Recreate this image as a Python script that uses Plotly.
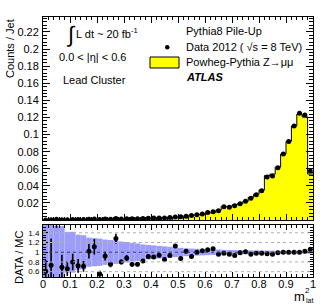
import plotly.graph_objects as go

# ---------------- data ----------------
bin_low = [i / 50 for i in range(50)]
bin_width = 0.02

mc_counts = [0.0004, 0.0005, 0.0005, 0.0006, 0.0007, 0.0007, 0.0008, 0.0009, 0.0009, 0.0010,
             0.0011, 0.0012, 0.0013, 0.0014, 0.0015, 0.0016, 0.0018, 0.0019, 0.0021, 0.0023,
             0.0025, 0.0027, 0.0029, 0.0032, 0.0032, 0.0044, 0.0045, 0.0057, 0.0062, 0.0070,
             0.0083, 0.0090, 0.0115, 0.0160, 0.0157, 0.0178, 0.0193, 0.0218, 0.0265, 0.0303,
             0.0351, 0.0520, 0.0537, 0.0620, 0.0772, 0.0920, 0.1100, 0.1240, 0.1205, 0.0538]

data_counts = [0.0002, 0.0004, 0.0009, 0.0004, 0.0005, 0.0006, 0.0006, 0.0006, 0.0009, 0.0011,
               0.0006, 0.0011, 0.0010, 0.0018, 0.0012, 0.0014, 0.0014, 0.0014, 0.0017, 0.0021,
               0.0023, 0.0025, 0.0025, 0.0030, 0.0036, 0.0038, 0.0046, 0.0052, 0.0062, 0.0072,
               0.0087, 0.0096, 0.0110, 0.0157, 0.0151, 0.0166, 0.0191, 0.0220, 0.0255, 0.0297,
               0.0344, 0.0504, 0.0516, 0.0613, 0.0772, 0.0920, 0.1100, 0.1250, 0.1230, 0.0574]

ratio = [0.61, 0.73, 1.90, 0.69, 0.66, 0.80, 0.72, 0.71, 1.02, 1.11,
         0.55, 0.92, 0.75, 1.28, 0.80, 0.88, 0.75, 0.75, 0.82, 0.91,
         0.90, 0.94, 0.85, 0.93, 1.13, 0.87, 1.02, 0.91, 1.00, 1.03,
         1.05, 1.07, 0.96, 0.98, 0.96, 0.93, 0.99, 1.01, 0.96, 0.98,
         0.98, 0.97, 0.96, 0.99, 1.00, 1.00, 1.00, 1.00, 1.02, 1.06]

ratio_err = [0.23, 0.55, 0.40, 0.26, 0.15, 0.17, 0.14, 0.11, 0.15, 0.16,
             0.07, 0.09, 0.06, 0.10, 0.05, 0.06, 0.05, 0.045, 0.04, 0.04,
             0.035, 0.035, 0.03, 0.03, 0.03, 0.025, 0.022, 0.02, 0.02, 0.018,
             0.017, 0.016, 0.015, 0.014, 0.013, 0.013, 0.012, 0.012, 0.011, 0.011,
             0.010, 0.010, 0.010, 0.010, 0.010, 0.010, 0.010, 0.010, 0.010, 0.012]

mc_band_halfwidth = [1.10, 1.10, 0.54, 0.54, 0.42, 0.42, 0.36, 0.35, 0.30, 0.29,
                     0.28, 0.26, 0.25, 0.24, 0.22, 0.21, 0.19, 0.18, 0.16, 0.15,
                     0.14, 0.13, 0.12, 0.11, 0.10, 0.09, 0.08, 0.075, 0.07, 0.065,
                     0.06, 0.058, 0.055, 0.05, 0.045, 0.043, 0.042, 0.04, 0.038, 0.036,
                     0.035, 0.033, 0.032, 0.03, 0.03, 0.028, 0.027, 0.026, 0.026, 0.03]

x_ticks = [0, 0.1, 0.2, 0.3, 0.4, 0.5, 0.6, 0.7, 0.8, 0.9, 1]
x_ticklabels = ["0", "0.1", "0.2", "0.3", "0.4", "0.5", "0.6", "0.7", "0.8", "0.9", "1"]
y_ticks = [0.02, 0.04, 0.06, 0.08, 0.1, 0.12, 0.14, 0.16, 0.18, 0.2, 0.22]
y_ticklabels = ["0.02", "0.04", "0.06", "0.08", "0.1", "0.12", "0.14", "0.16", "0.18", "0.2", "0.22"]
r_ticks = [0.6, 0.8, 1.0, 1.2, 1.4]
r_ticklabels = ["0.6", "0.8", "1", "1.2", "1.4"]

# ---------------- derived ----------------
centers = [b + bin_width / 2 for b in bin_low]
edges = bin_low + [bin_low[-1] + bin_width]
mc_step = mc_counts + [mc_counts[-1]]
band_base = [1 - h for h in mc_band_halfwidth]
band_height = [2 * h for h in mc_band_halfwidth]

FONT = "Liberation Sans, Arial, Helvetica, sans-serif"
W, H = 329, 305
L, R, T, B = 43, 313, 17, 277


def px(x):
    return (x - L) / (R - L)


def py(y):
    return (B - y) / (B - T)


fig = go.Figure()

# MC histogram (top)
fig.add_trace(go.Scatter(x=edges, y=mc_step, mode="lines", line_shape="hv",
                         fill="tozeroy", fillcolor="#ffff00",
                         line=dict(color="black", width=1),
                         xaxis="x", yaxis="y", hoverinfo="skip"))
# Data points (top)
fig.add_trace(go.Scatter(x=centers, y=data_counts, mode="markers",
                         marker=dict(color="black", size=5),
                         xaxis="x", yaxis="y"))

# MC uncertainty band (ratio)
fig.add_trace(go.Bar(x=centers, y=band_height, base=band_base, width=bin_width,
                     marker=dict(color="#9c9cff", line=dict(width=0)),
                     xaxis="x2", yaxis="y2", hoverinfo="skip"))
# Ratio points
fig.add_trace(go.Scatter(x=centers, y=ratio, mode="markers",
                         marker=dict(color="black", size=5),
                         error_y=dict(type="data", array=ratio_err, visible=True,
                                      color="black", thickness=1.6, width=0),
                         xaxis="x2", yaxis="y2", cliponaxis=True))

axis_common = dict(showline=True, linecolor="black", linewidth=1, mirror="ticks",
                   ticks="inside", tickcolor="black", showgrid=False, zeroline=False,
                   automargin=False)

fig.update_layout(
    width=W, height=H,
    margin=dict(l=L, r=W - R, t=T, b=H - B, pad=0, autoexpand=False),
    paper_bgcolor="white", plot_bgcolor="white",
    showlegend=False, barmode="overlay",
    font=dict(family=FONT, color="black", size=11),
    xaxis=dict(domain=[0, 1], range=[0, 1], anchor="y", matches="x2",
               tickvals=x_ticks, showticklabels=False, ticklen=6,
               minor=dict(ticks="inside", ticklen=3, dtick=0.02, tickcolor="black"),
               **axis_common),
    yaxis=dict(domain=[0.219, 1], range=[0, 0.2375], anchor="x",
               tickvals=y_ticks, ticktext=y_ticklabels, ticklen=7,
               tickfont=dict(size=11), ticklabelstandoff=1,
               minor=dict(ticks="inside", ticklen=4, dtick=0.004, tick0=0, tickcolor="black"),
               **axis_common),
    xaxis2=dict(domain=[0, 1], range=[0, 1], anchor="y2",
                tickvals=x_ticks, ticktext=x_ticklabels, ticklen=5,
                tickfont=dict(size=11), ticklabelstandoff=-3,
                minor=dict(ticks="inside", ticklen=3, dtick=0.02, tickcolor="black"),
                **axis_common),
    yaxis2=dict(domain=[0, 0.2], range=[0.49, 1.56], anchor="x2",
                tickvals=r_ticks, ticktext=r_ticklabels, ticklen=5,
                tickfont=dict(size=8), ticklabelstandoff=1,
                minor=dict(ticks="inside", ticklen=3, dtick=0.05, tick0=0, tickcolor="black"),
                **axis_common),
)

shapes = []
for v in [0.6, 0.8, 1.2, 1.4]:
    shapes.append(dict(type="line", xref="x2 domain", yref="y2", x0=0, x1=1, y0=v, y1=v,
                       line=dict(color="#b0b0b0", width=1, dash="dot")))
shapes.append(dict(type="line", xref="x2 domain", yref="y2", x0=0, x1=1, y0=1, y1=1,
                   line=dict(color="#404040", width=1, dash="dot")))
# legend symbols
shapes.append(dict(type="rect", xref="paper", yref="paper",
                   x0=px(150), x1=px(179), y0=py(68), y1=py(57),
                   fillcolor="#ffff00", line=dict(color="black", width=1)))
shapes.append(dict(type="circle", xref="paper", yref="paper",
                   x0=px(165), x1=px(169.5), y0=py(49.5), y1=py(45),
                   fillcolor="black", line=dict(color="black", width=0)))
fig.update_layout(shapes=shapes)


def ann(text, x, y, size=11, xanchor="left", yanchor="middle", angle=0, **kw):
    fig.add_annotation(text=text, xref="paper", yref="paper", x=px(x), y=py(y),
                       xanchor=xanchor, yanchor=yanchor, showarrow=False,
                       textangle=angle, font=dict(family=FONT, size=size, color="black"),
                       **kw)


ann("∫", 64, 35, size=22)
ann("L dt ~ 20 fb<sup>-1</sup>", 74, 33, size=11)
ann("0.0 < |η| < 0.6", 57, 57, size=11)
ann("Lead Cluster", 61, 80, size=11)

ann("Pythia8 Pile-Up", 184, 31, size=11)
ann("Data 2012 ( √s = 8 TeV)", 184, 47, size=11)
ann("Powheg-Pythia Z→μμ", 184, 62, size=11)
ann("<b><i>ATLAS</i></b>", 184, 77, size=11)

ann("Counts / Jet", 10, 49, size=11, xanchor="center", yanchor="middle", angle=-90)
ann("DATA / MC", 19, 258, size=11, xanchor="center", yanchor="middle", angle=-90)

ann("m", 299, 296, size=13, xanchor="center")
ann("2", 307.5, 290, size=8, xanchor="center")
ann("lat", 309.5, 300.5, size=7, xanchor="center")

fig.write_html("out.html",
               config={"displayModeBar": False},
               post_script="document.body.style.margin='0px';"
                           "document.body.style.overflow='hidden';")
